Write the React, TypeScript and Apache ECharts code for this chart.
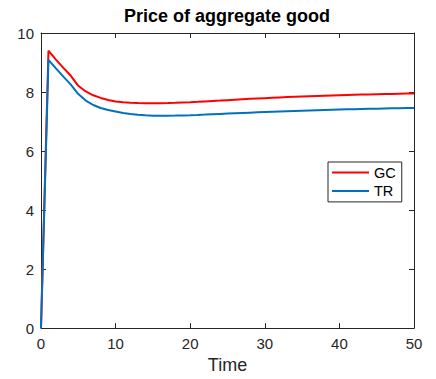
import React, { useEffect, useRef } from "react";
import * as echarts from "echarts";

const seriesNames = ["GC", "TR"];
const gcValues = [
  0, 9.4, 9.1, 8.82, 8.55, 8.21, 8.02, 7.89, 7.8, 7.73, 7.68, 7.65, 7.635, 7.625, 7.62,
  7.62, 7.622, 7.627, 7.635, 7.645, 7.655, 7.668, 7.682, 7.696, 7.71, 7.725, 7.74,
  7.754, 7.768, 7.781, 7.793, 7.805, 7.817, 7.828, 7.838, 7.848, 7.857, 7.866, 7.875,
  7.883, 7.891, 7.898, 7.905, 7.912, 7.918, 7.924, 7.93, 7.936, 7.941, 7.946, 7.95,
];
const trValues = [
  0, 9.09, 8.8, 8.52, 8.25, 7.93, 7.71, 7.56, 7.46, 7.39, 7.34, 7.29, 7.255, 7.23, 7.21,
  7.2, 7.197, 7.198, 7.202, 7.208, 7.216, 7.225, 7.235, 7.246, 7.257, 7.268, 7.279,
  7.29, 7.301, 7.312, 7.322, 7.332, 7.342, 7.351, 7.36, 7.369, 7.377, 7.385, 7.393,
  7.4, 7.407, 7.414, 7.42, 7.426, 7.432, 7.437, 7.442, 7.447, 7.452, 7.456, 7.46,
];
const xTicks = [0, 10, 20, 30, 40, 50];
const yTicks = [0, 2, 4, 6, 8, 10];
const titleText = "Price of aggregate good";
const xName = "Time";

const AXIS = "#262626";
const FONT = "'Liberation Sans', Arial, Helvetica, sans-serif";

export default function App() {
  const ref = useRef<HTMLDivElement>(null);
  useEffect(() => {
    if (!ref.current) return;
    const chart = echarts.init(ref.current, undefined, { renderer: "svg" });
    const toPairs = (vals: number[]) => vals.map((v, i) => [i, v]);
    const xStep = xTicks[1] - xTicks[0];
    const yStep = yTicks[1] - yTicks[0];
    const baseAxis = {
      axisLine: { show: true, onZero: false, lineStyle: { color: AXIS, width: 1 } },
      axisTick: { show: true, inside: true, length: 5, lineStyle: { color: AXIS, width: 1 } },
      splitLine: { show: false },
    };
    chart.setOption({
      animation: false,
      backgroundColor: "#ffffff",
      textStyle: { fontFamily: FONT },
      title: {
        text: titleText,
        left: 227,
        top: 7,
        padding: 0,
        textAlign: "center",
        textStyle: { fontFamily: FONT, fontSize: 18, fontWeight: "bold", color: "#000" },
      },
      grid: { left: 41, right: 22, top: 33, bottom: 48, containLabel: false },
      legend: {
        orient: "vertical",
        left: 328,
        top: 162,
        padding: [3, 6, 3.5, 4],
        icon: "rect",
        itemWidth: 37,
        itemHeight: 2,
        itemGap: 3.4,
        itemTextGap: 4,
        borderColor: AXIS,
        borderWidth: 1,
        backgroundColor: "#fff",
        textStyle: { fontFamily: FONT, fontSize: 14.5, color: "#000" },
        data: seriesNames,
      },
      xAxis: [
        {
          ...baseAxis,
          type: "value",
          min: xTicks[0],
          max: xTicks[xTicks.length - 1],
          interval: xStep,
          position: "bottom",
          name: xName,
          nameLocation: "middle",
          nameGap: 27,
          nameTextStyle: { fontFamily: FONT, fontSize: 18, color: AXIS },
          axisLabel: { fontFamily: FONT, fontSize: 15, color: AXIS, margin: 8 },
        },
        {
          ...baseAxis,
          type: "value",
          min: xTicks[0],
          max: xTicks[xTicks.length - 1],
          interval: xStep,
          position: "top",
          axisLabel: { show: false },
        },
      ],
      yAxis: [
        {
          ...baseAxis,
          type: "value",
          min: yTicks[0],
          max: yTicks[yTicks.length - 1],
          interval: yStep,
          position: "left",
          axisLabel: { fontFamily: FONT, fontSize: 15, color: AXIS, margin: 7 },
        },
        {
          ...baseAxis,
          type: "value",
          min: yTicks[0],
          max: yTicks[yTicks.length - 1],
          interval: yStep,
          position: "right",
          axisLabel: { show: false },
        },
      ],
      series: [
        {
          name: seriesNames[0],
          type: "line",
          data: toPairs(gcValues),
          symbol: "none",
          lineStyle: { color: "#ff0000", width: 2 },
          itemStyle: { color: "#ff0000" },
        },
        {
          name: seriesNames[1],
          type: "line",
          data: toPairs(trValues),
          symbol: "none",
          lineStyle: { color: "#0072bd", width: 2 },
          itemStyle: { color: "#0072bd" },
        },
      ],
    });
    return () => chart.dispose();
  }, []);
  return (
    <div
      ref={ref}
      style={{ position: "fixed", left: 0, top: 0, width: 436, height: 379, background: "#fff" }}
    />
  );
}
